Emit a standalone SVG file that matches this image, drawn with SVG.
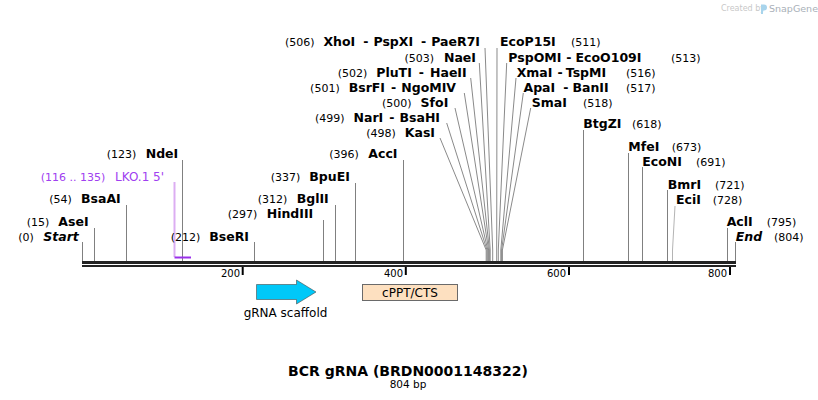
<svg xmlns="http://www.w3.org/2000/svg" width="818" height="400" viewBox="0 0 818 400">
<style>
text{font-family:"DejaVu Sans",Verdana,sans-serif;fill:#000}
.n{font-size:11px;font-weight:normal;font-style:normal}
.e{font-size:12.5px;font-weight:bold}
.s{font-size:12.5px;font-weight:bold;font-style:italic}
.t{font-size:10px}
.site{stroke:#808080;stroke-width:1;fill:none}
.fan{stroke:#8a8a8a;stroke-width:1;fill:none}
.lt{stroke:#b4b4b4;stroke-width:1;fill:none}
.tick{stroke:#000;stroke-width:2}
.f{font-size:12px}
</style>
<rect width="818" height="400" fill="#fff"/>
<g id="watermark">
<text x="721" y="11" style="font-size:8px;fill:#c8c8c8">Created by</text>
<path d="M761,4.5 h3 a3,3 0 0 1 0,6 h-1 v3.5 h-2 z" fill="#a8d4ec"/>
<text x="769" y="12" style="font-size:9.5px;fill:#a9b0b8">SnapGene</text>
</g>
<g id="connectors">
<line class="site" x1="82.5" y1="242" x2="82.5" y2="261"/>
<line class="site" x1="94.5" y1="228" x2="94.5" y2="261"/>
<line class="site" x1="126.5" y1="205" x2="126.5" y2="261"/>
<line class="site" x1="182.5" y1="160" x2="182.5" y2="261"/>
<line class="site" x1="254.5" y1="242" x2="254.5" y2="261"/>
<line class="site" x1="323.5" y1="220" x2="323.5" y2="261"/>
<line class="site" x1="335.5" y1="205" x2="335.5" y2="261"/>
<line class="site" x1="355.5" y1="183" x2="355.5" y2="261"/>
<line class="site" x1="403.5" y1="160" x2="403.5" y2="261"/>
<line class="site" x1="583.5" y1="130" x2="583.5" y2="261"/>
<line class="site" x1="628.5" y1="153" x2="628.5" y2="261"/>
<line class="site" x1="642.5" y1="167" x2="642.5" y2="261"/>
<line class="site" x1="667.5" y1="190" x2="667.5" y2="261"/>
<polyline class="lt" points="675,206 672.5,250 672.5,261"/>
<line class="site" x1="727.5" y1="228" x2="727.5" y2="261"/>
<line class="site" x1="735.5" y1="242" x2="735.5" y2="261"/>
<polyline class="fan" points="440,138 486.2,250 486.2,261"/>
<polyline class="fan" points="446.7,123 487,250 487,261"/>
<polyline class="fan" points="455,108 487.8,250 487.8,261"/>
<polyline class="fan" points="464.3,93 488.6,250 488.6,261"/>
<polyline class="fan" points="470.7,78 489.4,250 489.4,261"/>
<polyline class="fan" points="479.3,63 490.2,250 490.2,261"/>
<polyline class="fan" points="485,48 492.7,250 492.7,261"/>
<polyline class="fan" points="497,48 496.7,250 496.7,261"/>
<polyline class="fan" points="506.7,63 498.3,250 498.3,261"/>
<polyline class="fan" points="516,78 500.8,250 500.8,261"/>
<polyline class="fan" points="523.3,93 501.6,250 501.6,261"/>
<polyline class="fan" points="530.7,108 502.4,250 502.4,261"/>
</g>
<g id="backbone">
<rect x="82" y="261" width="654" height="3" fill="#222"/>
<rect x="82" y="265" width="654" height="2" fill="#222"/>
<line class="tick" x1="242.7" y1="267" x2="242.7" y2="275"/>
<line class="tick" x1="405.8" y1="267" x2="405.8" y2="275"/>
<line class="tick" x1="569" y1="267" x2="569" y2="275"/>
<line class="tick" x1="730" y1="267" x2="730" y2="275"/>
<text class="t" x="240" y="277" text-anchor="end">200</text>
<text class="t" x="403" y="277" text-anchor="end">400</text>
<text class="t" x="566" y="277" text-anchor="end">600</text>
<text class="t" x="727" y="277" text-anchor="end">800</text>
</g>
<g id="start"><text class="n" x="18.3" y="240.7">(0)</text><text class="s" x="43.3" y="240.7">Start</text></g>
<g id="AseI"><text class="n" x="26.7" y="225.7">(15)</text><text class="e" x="58.3" y="225.7">AseI</text></g>
<g id="BsaAI"><text class="n" x="49.3" y="203.3">(54)</text><text class="e" x="81" y="203.3">BsaAI</text></g>
<g id="LKO"><text x="40.7" y="180.7" style="font-size:11px;fill:#a040f0">(116 .. 135)</text><text x="115" y="180.7" style="font-size:12px;fill:#a040f0">LKO.1 5'</text>
<line x1="174.5" y1="182" x2="174.5" y2="257" stroke="#dcaef2" stroke-width="2"/>
<line x1="174.5" y1="257.5" x2="191" y2="257.5" stroke="#9a30ea" stroke-width="2"/></g>
<g id="NdeI"><text class="n" x="106.7" y="158.3">(123)</text><text class="e" x="145.7" y="158.3">NdeI</text></g>
<g id="BseRI"><text class="n" x="170.7" y="240.7">(212)</text><text class="e" x="209.3" y="240.7">BseRI</text></g>
<g id="HindIII"><text class="n" x="227.7" y="218">(297)</text><text class="e" x="266.7" y="218">HindIII</text></g>
<g id="BglII"><text class="n" x="257.7" y="203">(312)</text><text class="e" x="296.7" y="203">BglII</text></g>
<g id="BpuEI"><text class="n" x="270.7" y="180.7">(337)</text><text class="e" x="309.3" y="180.7">BpuEI</text></g>
<g id="AccI"><text class="n" x="329.3" y="157.7">(396)</text><text class="e" x="368.3" y="157.7">AccI</text></g>
<g id="s506"><text class="e" x="480" y="46" text-anchor="end"><tspan class="n">(506)</tspan><tspan dx="9">XhoI</tspan><tspan dx="8">-</tspan><tspan dx="5">PspXI</tspan><tspan dx="8">-</tspan><tspan dx="5">PaeR7I</tspan></text></g>
<g id="s503"><text class="e" x="476" y="61.7" text-anchor="end"><tspan class="n">(503)</tspan><tspan dx="10">NaeI</tspan></text></g>
<g id="s502"><text class="e" x="466.7" y="76.7" text-anchor="end"><tspan class="n">(502)</tspan><tspan dx="9">PluTI</tspan><tspan dx="7">-</tspan><tspan dx="6">HaeII</tspan></text></g>
<g id="s501"><text class="e" x="456" y="91.7" text-anchor="end"><tspan class="n">(501)</tspan><tspan dx="9">BsrFI</tspan><tspan dx="6">-</tspan><tspan dx="5">NgoMIV</tspan></text></g>
<g id="s500"><text class="e" x="448.3" y="106.7" text-anchor="end"><tspan class="n">(500)</tspan><tspan dx="9">SfoI</tspan></text></g>
<g id="s499"><text class="e" x="440" y="121.7" text-anchor="end"><tspan class="n">(499)</tspan><tspan dx="9">NarI</tspan><tspan dx="6">-</tspan><tspan dx="5">BsaHI</tspan></text></g>
<g id="s498"><text class="e" x="435" y="136.7" text-anchor="end"><tspan class="n">(498)</tspan><tspan dx="9">KasI</tspan></text></g>
<g id="s511"><text class="e" x="500" y="46">EcoP15I</text><text class="n" x="571" y="46">(511)</text></g>
<g id="s513"><text class="e" x="508.3" y="61.7">PspOMI<tspan dx="5">-</tspan><tspan dx="4">EcoO109I</tspan></text><text class="n" x="671" y="61.7">(513)</text></g>
<g id="s516"><text class="e" x="516.7" y="76.7">XmaI<tspan dx="5">-</tspan><tspan dx="5">TspMI</tspan></text><text class="n" x="626" y="76.7">(516)</text></g>
<g id="s517"><text class="e" x="523.5" y="91.7">ApaI<tspan dx="8">-</tspan><tspan dx="4">BanII</tspan></text><text class="n" x="626" y="91.7">(517)</text></g>
<g id="s518"><text class="e" x="531.7" y="106.7">SmaI</text><text class="n" x="583" y="106.7">(518)</text></g>
<g id="BtgZI"><text class="e" x="583.3" y="128.3">BtgZI</text><text class="n" x="632" y="128.3">(618)</text></g>
<g id="MfeI"><text class="e" x="628.3" y="150.7">MfeI</text><text class="n" x="671.7" y="150.7">(673)</text></g>
<g id="EcoNI"><text class="e" x="642.3" y="166">EcoNI</text><text class="n" x="696" y="166">(691)</text></g>
<g id="BmrI"><text class="e" x="667.7" y="188.7">BmrI</text><text class="n" x="715" y="188.7">(721)</text></g>
<g id="EciI"><text class="e" x="676" y="204">EciI</text><text class="n" x="712.7" y="204">(728)</text></g>
<g id="AclI"><text class="e" x="726.7" y="226">AclI</text><text class="n" x="766.7" y="226">(795)</text></g>
<g id="end"><text class="s" x="735.7" y="241.3">End</text><text class="n" x="774" y="241.3">(804)</text></g>
<g id="gRNA">
<path d="M256.5,284.5 H296.5 V280 L316,292 L296.5,304 V299.5 H256.5 Z" fill="#00c8f8" stroke="#4a4a4a" stroke-width="0.6"/>
<text class="f" x="285.5" y="317.3" text-anchor="middle">gRNA scaffold</text>
</g>
<g id="cPPT">
<rect x="362.5" y="284.5" width="95" height="16" fill="#fde0c0" stroke="#6a6a6a" stroke-width="1"/>
<text class="f" x="410" y="296.5" text-anchor="middle">cPPT/CTS</text>
</g>
<g id="title">
<text x="408" y="376" text-anchor="middle" style="font-size:14px;font-weight:bold">BCR gRNA (BRDN0001148322)</text>
<text x="408" y="387.5" text-anchor="middle" style="font-size:10.5px">804 bp</text>
</g>
</svg>
